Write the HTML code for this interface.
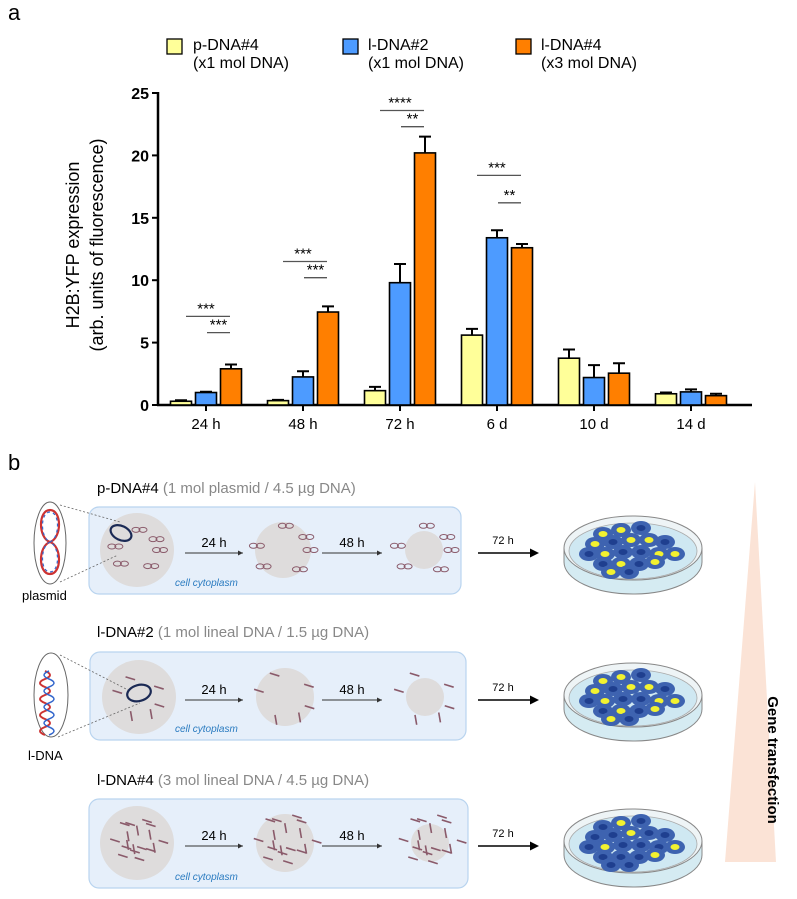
<!DOCTYPE html>
<html><head><meta charset="utf-8"><style>
body{margin:0;background:#fff;}
svg{display:block;font-family:"Liberation Sans",Arial,sans-serif;}
</style></head><body>
<svg id="fig" width="797" height="899" viewBox="0 0 797 899" xmlns="http://www.w3.org/2000/svg">
<text x="8" y="20" font-size="22">a</text>
<text x="8" y="470" font-size="22">b</text>
<g font-size="16">
 <g><rect x="167" y="39" width="15" height="15" fill="#ffff99" stroke="#000" stroke-width="1.3"/><text x="193" y="50">p-DNA#4</text><text x="193" y="68">(x1 mol DNA)</text></g>
 <g><rect x="343" y="39" width="15" height="15" fill="#4d9bff" stroke="#000" stroke-width="1.3"/><text x="368" y="50">l-DNA#2</text><text x="368" y="68">(x1 mol DNA)</text></g>
 <g><rect x="516" y="39" width="15" height="15" fill="#ff7f00" stroke="#000" stroke-width="1.3"/><text x="541" y="50">l-DNA#4</text><text x="541" y="68">(x3 mol DNA)</text></g>
</g>
<g id="chart"></g>
<text transform="translate(88,245) rotate(-90)" text-anchor="middle" font-size="18"><tspan x="0" dy="-9">H2B:YFP expression</tspan><tspan x="0" dy="24">(arb. units of fluorescence)</tspan></text>

<polygon points="755,482 725,862 776,862" fill="#fbe3d6"/>
<text transform="translate(768,760) rotate(90)" text-anchor="middle" font-size="15" font-weight="bold">Gene transfection</text>
<g id="panelb"></g>
</svg>
<script>
const categories=["24 h","48 h","72 h","6 d","10 d","14 d"];
const pDNA4=[0.3,0.35,1.15,5.6,3.75,0.9];
const pDNA4Err=[0.08,0.06,0.3,0.5,0.7,0.1];
const lDNA2=[1.0,2.25,9.8,13.4,2.2,1.05];
const lDNA2Err=[0.06,0.45,1.5,0.6,1.0,0.2];
const lDNA4=[2.9,7.45,20.2,12.6,2.55,0.75];
const lDNA4Err=[0.35,0.45,1.3,0.3,0.8,0.15];
const yTicks=[0,5,10,15,20,25];
const sigCats=[0,1,2,3];
const sigLong=["***","***","****","***"];
const sigShort=["***","***","**","**"];
const sigLongY=[7.1,11.5,23.6,18.4];
const sigShortY=[5.8,10.2,22.3,16.2];

const NS="http://www.w3.org/2000/svg";
function mk(tag,attrs,parent){const e=document.createElementNS(NS,tag);for(const k in attrs)e.setAttribute(k,attrs[k]);parent.appendChild(e);return e;}
const chart=document.getElementById('chart');
const X0=158,Y0=405,YTOP=93,XEND=752,STEP=97,FIRST=206,BW=21,OFF=25;
function y(v){return Y0-(v/25)*(Y0-YTOP);}
function xc(i){return FIRST+i*STEP;}
let ax=mk('line',{x1:X0,y1:YTOP-1,x2:X0,y2:Y0+1,stroke:'#000','stroke-width':2.5},chart);

let ax2=mk('line',{x1:X0-1,y1:Y0,x2:XEND,y2:Y0,stroke:'#000','stroke-width':2.5},chart);

yTicks.forEach(t=>{
 let l=mk('line',{x1:X0-6,y1:y(t),x2:X0,y2:y(t),stroke:'#000','stroke-width':2},chart);
 
 let tx=mk('text',{x:X0-9,y:y(t)+6,'text-anchor':'end','font-size':16,'font-weight':'bold'},chart);tx.textContent=t;
 
});
const series=[[pDNA4,pDNA4Err,'#ffff99','p-dna4'],[lDNA2,lDNA2Err,'#4d9bff','l-dna2'],[lDNA4,lDNA4Err,'#ff7f00','l-dna4']];
categories.forEach((c,i)=>{
 let l=mk('line',{x1:xc(i),y1:Y0,x2:xc(i),y2:Y0+6,stroke:'#000','stroke-width':2},chart);
 
 let tx=mk('text',{x:xc(i),y:Y0+24,'text-anchor':'middle','font-size':15},chart);tx.textContent=c;
 
 series.forEach((s,j)=>{
  const v=s[0][i],e=s[1][i],cx=xc(i)+(j-1)*OFF;
  let er=mk('path',{d:`M${cx} ${y(v)} V${y(v+e)} M${cx-6} ${y(v+e)} H${cx+6}`,stroke:'#000','stroke-width':2,fill:'none'},chart);
  
  let r=mk('rect',{x:cx-BW/2,y:y(v),width:BW,height:Y0-y(v),fill:s[2],stroke:'#000','stroke-width':1.6},chart);
  
 });
});
sigCats.forEach((ci,k)=>{
 const a=xc(ci)-20,b=xc(ci)+24,m=xc(ci)+1;
 let l1=mk('line',{x1:a,y1:y(sigLongY[k]),x2:b,y2:y(sigLongY[k]),stroke:'#555','stroke-width':1.3},chart);
 
 let t1=mk('text',{x:(a+b)/2-2,y:y(sigLongY[k])-3,'text-anchor':'middle','font-size':15},chart);t1.textContent=sigLong[k];
 
 let l2=mk('line',{x1:m,y1:y(sigShortY[k]),x2:b,y2:y(sigShortY[k]),stroke:'#555','stroke-width':1.3},chart);
 
 let t2=mk('text',{x:(m+b)/2,y:y(sigShortY[k])-3,'text-anchor':'middle','font-size':15},chart);t2.textContent=sigShort[k];
 
});

const pb=document.getElementById('panelb');
const rows=[
 {title:"p-DNA#4",sub:" (1 mol plasmid / 4.5 µg DNA)",ty:493,box:[89,507,372,87],cy:550,circ:[[137,37],[283,28],[424,19]],kind:'p',n:[6,6,6]},
 {title:"l-DNA#2",sub:" (1 mol lineal DNA / 1.5 µg DNA)",ty:637,box:[90,652,376,88],cy:697,circ:[[139,37],[285,29],[425,19]],kind:'l',n:[6,6,6]},
 {title:"l-DNA#4",sub:" (3 mol lineal DNA / 4.5 µg DNA)",ty:785,box:[89,799,379,89],cy:843,circ:[[137,37],[285,29],[430,19]],kind:'l',n:[18,18,18]}
];
rows.forEach((r,ri)=>{
 let t=mk('text',{x:97,y:r.ty,'font-size':15},pb);
 
 t.innerHTML=r.title+'<tspan fill="#888">'+r.sub+'</tspan>';
 let b=mk('rect',{x:r.box[0],y:r.box[1],width:r.box[2],height:r.box[3],rx:10,fill:'#e6effa',stroke:'#b9d4ef','stroke-width':1.2},pb);
 
 r.circ.forEach((c,k)=>{
  let ci=mk('circle',{cx:c[0],cy:r.cy,r:c[1],fill:'#dedcdc'},pb);
  
  const n=r.n[k];
  for(let q=0;q<n;q++){
   const ang=q*2.4+ri, rad=(n>6?0.25+0.7*((q*37)%10)/10:0.75)*(k==0?30:36);
   const px=c[0]+Math.cos(ang)*rad, py=r.cy+Math.sin(ang)*rad*0.9;
   if(r.kind=='p'){
    mk('ellipse',{cx:px-3,cy:py,rx:4,ry:2.5,fill:'none',stroke:'#8a5a6a','stroke-width':1},pb);
    mk('ellipse',{cx:px+4,cy:py,rx:4,ry:2.5,fill:'none',stroke:'#8a5a6a','stroke-width':1},pb);
   } else {
    const a2=(q%3==0)?1.4:0.3;
    mk('line',{x1:px-5*Math.cos(a2),y1:py-5*Math.sin(a2),x2:px+5*Math.cos(a2),y2:py+5*Math.sin(a2),stroke:'#8a5a6a','stroke-width':1.6},pb);
   }
  }
 });
 [[185,243,'24 h'],[322,382,'48 h']].forEach(a=>{
  let l=mk('line',{x1:a[0],y1:r.cy+3,x2:a[1],y2:r.cy+3,stroke:'#333','stroke-width':1},pb);
  
  mk('path',{d:`M${a[1]} ${r.cy+3} l-5 -2.5 v5z`,fill:'#333'},pb);
  let tx=mk('text',{x:(a[0]+a[1])/2,y:r.cy-3,'text-anchor':'middle','font-size':13},pb);tx.textContent=a[2];
 });
 let ct=mk('text',{x:175,y:r.box[1]+r.box[3]-8,'font-size':10,'font-style':'italic',fill:'#2a7bc0'},pb);ct.textContent='cell cytoplasm';
 
 const ay=r.cy+3;
 let la=mk('line',{x1:478,y1:ay,x2:532,y2:ay,stroke:'#000','stroke-width':1.5},pb);
 
 mk('path',{d:`M539 ${ay} l-9 -4.5 v9z`,fill:'#000'},pb);
 let t72=mk('text',{x:503,y:ay-9,'text-anchor':'middle','font-size':11},pb);t72.textContent='72 h';
 const dx=633,dy=r.cy-2;
 let g=mk('g',{},pb);
 mk('path',{d:`M${dx-69} ${dy} v14 a69 32 0 0 0 138 0 v-14`,fill:'#d5ebf2',stroke:'#888','stroke-width':1},g);
 mk('ellipse',{cx:dx,cy:dy,rx:69,ry:32,fill:'#eef4f6',stroke:'#888','stroke-width':1},g);
 mk('ellipse',{cx:dx,cy:dy+3,rx:64,ry:28,fill:'#cfe8f2',stroke:'#aaa','stroke-width':0.8},g);
 const cells=[[-30,-14],[-12,-18],[8,-20],[-38,-4],[-20,-6],[-2,-8],[16,-8],[32,-6],[-44,6],[-28,6],[-10,4],[8,4],[26,6],[42,6],[-30,16],[-12,16],[6,16],[22,14],[-22,24],[-4,24]];
 cells.forEach((c,k)=>{
  mk('ellipse',{cx:dx+c[0],cy:dy+c[1],rx:10,ry:7,fill:'#3e63b0'},g);
  mk('ellipse',{cx:dx+c[0],cy:dy+c[1],rx:4.5,ry:3,fill:(k%3==0&&ri<2)||(k%4==1)?'#f2f230':'#1f3f8f'},g);
 });
});
const side=mk('g',{},pb);
mk('ellipse',{cx:50,cy:543,rx:16,ry:41,fill:'none',stroke:'#666','stroke-width':1},side);
mk('path',{d:'M50 510 c-12 0 -12 28 0 32 c12 -4 12 -32 0 -32 M50 542 c-12 4 -12 32 0 32 c12 0 12 -28 0 -32',fill:'none',stroke:'#c33','stroke-width':2.2},side);
mk('path',{d:'M50 512 c-10 0 -10 26 0 30 c10 -4 10 -30 0 -30 M50 542 c-10 4 -10 30 0 30 c10 0 10 -26 0 -30',fill:'none',stroke:'#36c','stroke-width':1.2,'stroke-dasharray':'3 3'},side);
mk('path',{d:'M60 505 L120 522 M60 582 L118 555',stroke:'#666','stroke-width':0.8,'stroke-dasharray':'2 2'},side);
mk('ellipse',{cx:121,cy:533,rx:11,ry:7,fill:'none',stroke:'#1b2a55','stroke-width':2.2,transform:'rotate(25 121 533)'},side);
let tp=mk('text',{x:22,y:600,'font-size':13},side);tp.textContent='plasmid';
mk('ellipse',{cx:51,cy:695,rx:17,ry:42,fill:'none',stroke:'#666','stroke-width':1},side);
mk('path',{d:'M45 671 q10 4 0 8 q-10 4 0 8 q10 4 0 8 q-10 4 0 8 q10 4 0 8 q-10 4 0 8 q10 4 0 8 q-10 4 0 8',fill:'none',stroke:'#c33','stroke-width':2},side);
mk('path',{d:'M49 671 q-10 4 0 8 q10 4 0 8 q-10 4 0 8 q10 4 0 8 q-10 4 0 8 q10 4 0 8 q-10 4 0 8 q10 4 0 8',fill:'none',stroke:'#36c','stroke-width':1.5},side);
mk('path',{d:'M60 655 L130 691 M58 737 L140 703',stroke:'#666','stroke-width':0.8,'stroke-dasharray':'2 2'},side);
mk('ellipse',{cx:139,cy:693,rx:12,ry:8,fill:'none',stroke:'#1b2a55','stroke-width':2.2,transform:'rotate(-15 139 693)'},side);
let tl=mk('text',{x:28,y:760,'font-size':13},side);tl.textContent='l-DNA';
</script>
</body></html>
